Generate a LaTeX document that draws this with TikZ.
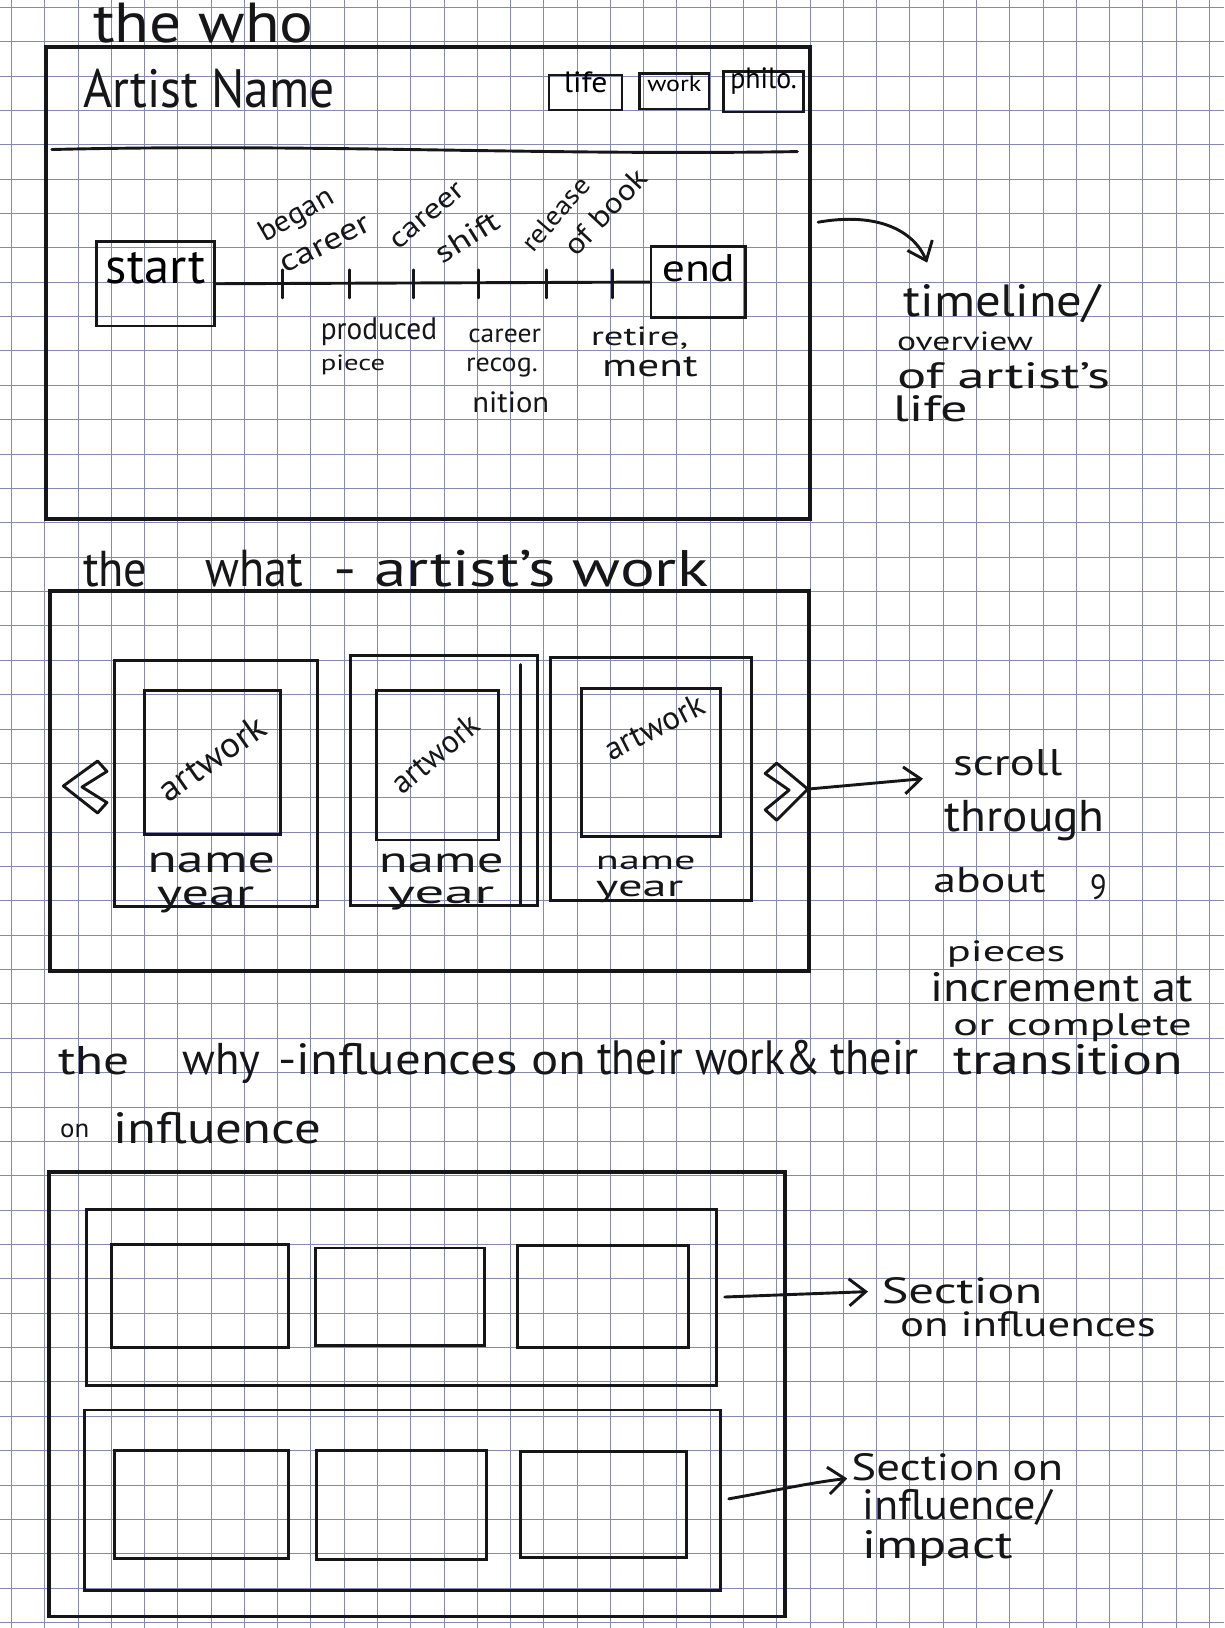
\documentclass[tikz,border=0pt]{standalone}
\usepackage{fontspec}
\setmainfont{PT Sans}
\usepackage{graphicx}
\usetikzlibrary{arrows.meta,fit}
% one drawing unit = half a point
\newlength\pxu
\setlength\pxu{0.5pt}
% handwritten-style word stretched to a given width and height (in drawing units)
\newcommand\pen[3]{\resizebox{#1\pxu}{#2\pxu}{#3}}
\definecolor{gridblue}{RGB}{132,136,178}
\definecolor{ink}{RGB}{22,22,24}

\begin{document}
\begin{tikzpicture}[x=0.5pt,y=-0.5pt,
  hw/.style={inner sep=0pt, outer sep=0pt, anchor=base west, text=ink},
  hwc/.style={inner sep=0pt, outer sep=0pt, anchor=center, text=ink},
  wfframe/.style={draw=ink, line width=1.8pt, inner sep=0pt, outer sep=0pt},
  wfcard/.style={draw=ink, line width=1.4pt, inner sep=0pt, outer sep=0pt},
  wfbtn/.style={draw=ink, line width=1.2pt, inner sep=0pt, outer sep=0pt},
  inkline/.style={draw=ink, line width=1.4pt, line cap=round, line join=round},
  inkarrow/.style={inkline, -{Straight Barb[length=8pt,width=13pt,line width=1.4pt]}},
  gridline/.style={draw=gridblue, line width=0.45pt}]

% paper and squared grid
\fill[white] (0,0) rectangle (1179,1568);
\useasboundingbox (0,0) rectangle (1179,1568);
\foreach \i in {0,...,36} \draw[gridline] ({11+32.05*\i},0) -- ({11+32.05*\i},1568);
\foreach \j in {0,...,47} \draw[gridline] (0,{7+33.1*\j}) -- (1179,{7+33.1*\j});

% ---------------- the who ----------------
\node[hw] (whoTitle) at (90,41) {\pen{212}{38}{the who}};
\node[wfframe, fit={(44,45) (780,500)}] (whoFrame) {};
\node[hw] (artistName) at (80,104) {\pen{242}{37}{Artist Name}};
\node[wfbtn, fit={(529,72) (599,106)}] (lifeBtn) {\pen{42}{20}{life}};
\node[wfbtn, fit={(616,71) (683,105)}] (workBtn) {\pen{52}{15}{work}};
\node[wfbtn, fit={(697,69) (774,108)}] (philoBtn) {\pen{64}{20}{philo.}};
\draw[inkline] (50,144) .. controls (300,138) and (520,150) .. (768,146);

% timeline
\node[wfcard, fit={(93,233) (207,314)}] (tlStart) {\pen{96}{30}{start}};
\node[wfcard, fit={(627,237) (718,306)}] (tlEnd) {\pen{70}{26}{end}};
\draw[inkline] (tlStart) -- (tlEnd);
\foreach \t in {272,337,398,461,526,590} \draw[inkline] (\t,260) -- (\t,287);

\node[hwc, rotate=30] (lbBegan) at (286,208) {\pen{78}{20}{began}};
\node[hwc, rotate=27] (lbCareerA) at (314,236) {\pen{94}{15}{career}};
\node[hwc, rotate=40] (lbCareerB) at (412,208) {\pen{86}{14}{career}};
\node[hwc, rotate=32] (lbShift) at (450,228) {\pen{68}{20}{shift}};
\node[hwc, rotate=49] (lbRelease) at (535,206) {\pen{86}{18}{release}};
\node[hwc, rotate=47] (lbOfBook) at (583,204) {\pen{103}{20}{of book}};

\node[hw] (lbProduced) at (309,327) {\pen{112}{21}{produced}};
\node[hw] (lbPiece) at (309,357) {\pen{62}{15}{piece}};
\node[hw] (lbCareerC) at (451,330) {\pen{70}{13}{career}};
\node[hw] (lbRecog) at (449,358) {\pen{69}{13}{recog.}};
\node[hw] (lbNition) at (455,397) {\pen{74}{20}{nition}};
\node[hw] (lbRetire) at (569,333) {\pen{94}{18}{retire,}};
\node[hw] (lbMent) at (580,363) {\pen{92}{19}{ment}};

\coordinate (tlArrowFrom) at (788,214);
\coordinate (tlArrowTo) at (893,253);
\draw[inkarrow] (tlArrowFrom) .. controls (845,204) and (880,222) .. (tlArrowTo);

\node[hw] (noteTimeline) at (870,305) {\pen{190}{31}{timeline/}};
\node[hw] (noteOverview) at (864,338) {\pen{131}{18}{overview}};
\node[hw] (noteOfArtist) at (864,374) {\pen{205}{25}{of artist's}};
\node[hw] (noteLife) at (860,406) {\pen{72}{25}{life}};

% ---------------- the what ----------------
\node[hw] (whatThe) at (80,565) {\pen{62}{34}{the}};
\node[hw] (whatWhat) at (198,565) {\pen{94}{35}{what}};
\node[hw] (whatRest) at (321,565) {\pen{361}{35}{- artist's work}};
\node[wfframe, fit={(48,569) (779,935)}] (whatFrame) {};

% scroll chevrons
\draw[inkline] (61,757) -- (94,733) -- (103,743) -- (79,758) -- (103,773) -- (94,783) -- cycle;
\draw[inkline] (737,745) -- (748,735) -- (778,760) -- (748,790) -- (737,780) -- (760,761) -- cycle;
\coordinate (chevTip) at (778,760);

% artwork cards
\node[wfcard, fit={(110,636) (306,873)}] (card1) {};
\node[wfcard, fit={(139,665) (270,804)}] (art1) {};
\node[hwc, rotate=35] (art1Label) at (204,730) {\pen{118}{24}{artwork}};
\node[hw] (name1) at (142,840) {\pen{123}{19}{name}};
\node[hw] (year1) at (151,872) {\pen{94}{18}{year}};

\node[wfcard, fit={(338,631) (518,872)}] (card2) {};
\draw[inkline] (501,640) -- (501,872);
\node[wfcard, fit={(363,665) (480,809)}] (art2) {};
\node[hwc, rotate=40] (art2Label) at (419,726) {\pen{100}{22}{artwork}};
\node[hw] (name2) at (365,840) {\pen{120}{18}{name}};
\node[hw] (year2) at (373,870) {\pen{103}{16}{year}};

\node[wfcard, fit={(530,633) (724,867)}] (card3) {};
\node[wfcard, fit={(560,663) (694,806)}] (art3) {};
\node[hwc, rotate=27] (art3Label) at (630,700) {\pen{104}{22}{artwork}};
\node[hw] (name3) at (574,837) {\pen{96}{13}{name}};
\node[hw] (year3) at (574,863) {\pen{84}{15}{year}};

\coordinate (scrollTo) at (889,750);
\draw[inkarrow] (chevTip) -- (scrollTo);

\node[hw] (noteScroll) at (918,747) {\pen{105}{25}{scroll}};
\node[hw] (noteThrough) at (910,801) {\pen{154}{30}{through}};
\node[hw] (noteAbout) at (899,860) {\pen{108}{24}{about}};
\node[hw] (noteNine) at (1050,866) {\pen{16}{24}{9}};
\node[hw] (notePieces) at (912,926) {\pen{114}{20}{pieces}};
\node[hw] (noteIncrement) at (896,965) {\pen{253}{28}{increment at}};
\node[hw] (noteComplete) at (918,997) {\pen{230}{21}{or complete}};

% ---------------- the why ----------------
\node[hw] (whyThe) at (56,1035) {\pen{69}{27}{the}};
\node[hw] (whyWhy) at (176,1035) {\pen{75}{30}{why}};
\node[hw] (whyInfl) at (268,1035) {\pen{297}{30}{-influences on}};
\node[hw] (whyWork) at (575,1035) {\pen{215}{33}{their work\&}};
\node[hw] (whyTheir) at (800,1035) {\pen{85}{33}{their}};
\node[hw] (whyTrans) at (918,1035) {\pen{222}{29}{transition}};
\node[hw] (whyOn) at (58,1096) {\pen{28}{13}{on}};
\node[hw] (whyInfluence) at (109,1101) {\pen{200}{30}{influence}};

\node[wfframe, fit={(47,1129) (756,1557)}] (whyFrame) {};

\node[wfcard, fit={(83,1165) (690,1334)}] (panelA) {};
\node[wfcard, fit={(107,1199) (278,1298)}] (boxA1) {};
\node[wfcard, fit={(304,1202) (467,1296)}] (boxA2) {};
\node[wfcard, fit={(498,1200) (663,1298)}] (boxA3) {};

\node[wfcard, fit={(81,1358) (694,1532)}] (panelB) {};
\node[wfcard, fit={(110,1397) (278,1501)}] (boxB1) {};
\node[wfcard, fit={(305,1397) (469,1502)}] (boxB2) {};
\node[wfcard, fit={(501,1398) (661,1500)}] (boxB3) {};

\coordinate (secAto) at (836,1244);
\draw[inkarrow, shorten <=4pt] (panelA.east) -- (secAto);
\coordinate (secBto) at (816,1424);
\draw[inkarrow, shorten <=4pt] (panelB.east) .. controls (745,1436) and (780,1428) .. (secBto);

\node[hw] (secA1) at (849,1255) {\pen{155}{25}{Section}};
\node[hw] (secA2) at (867,1287) {\pen{246}{24}{on influences}};
\node[hw] (secB1) at (820,1426) {\pen{204}{26}{Section on}};
\node[hw] (secB2) at (831,1463) {\pen{182}{29}{influence/}};
\node[hw] (secB3) at (831,1501) {\pen{145}{27}{impact}};
\end{tikzpicture}
\end{document}
